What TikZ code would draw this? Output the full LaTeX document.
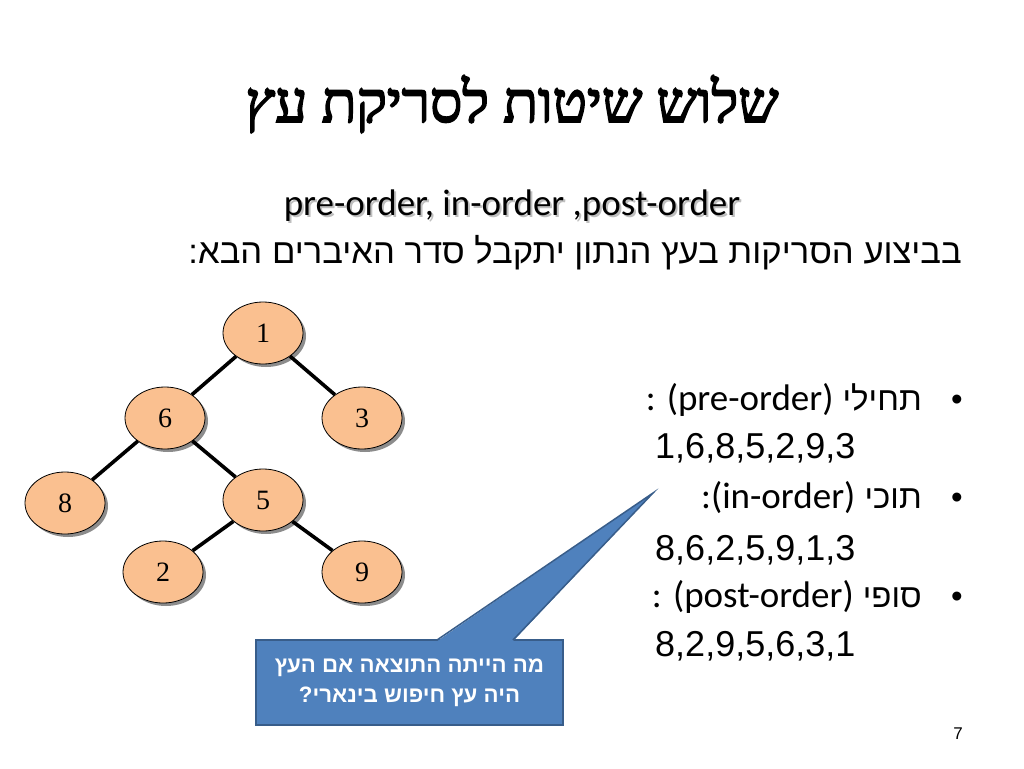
\documentclass[tikz,border=0pt]{standalone}
\usepackage{fontspec}
\usetikzlibrary{shapes.geometric,shadows}
\TeXXeTstate=1
\setmainfont{Liberation Sans}
\newfontfamily\hebserif[Script=Hebrew,FakeBold=3]{Liberation Serif}
\newfontfamily\hebsans[Script=Hebrew]{Liberation Sans}
\newfontfamily\calib{Carlito}
\newfontfamily\numserif{Liberation Serif}
\definecolor{peach}{HTML}{FAC090}
\definecolor{callfill}{HTML}{4F81BD}
\definecolor{calldraw}{HTML}{385D8A}
\tikzset{
  treenode/.style={ellipse, draw=black, line width=0.8pt, fill=peach,
    minimum width=80pt, minimum height=62pt, inner sep=0pt,
    font=\numserif\fontsize{28}{30}\selectfont,
    drop shadow={shadow xshift=3pt, shadow yshift=-3pt, fill=black, opacity=0.45}},
  treeedge/.style={line width=3.6pt, black},
  bodytext/.style={font=\hebsans\fontsize{34.6}{38}\selectfont, inner sep=0pt},
  bullettext/.style={font=\hebsans\fontsize{33}{36}\selectfont, inner sep=0pt},
  numtext/.style={font=\fontsize{36}{40}\selectfont, inner sep=0pt, anchor=base west},
}
\begin{document}
\begin{tikzpicture}[x=1pt,y=-1pt]
\useasboundingbox[fill=white] (0,0) rectangle (1024,768);

% title
\node[anchor=base, inner sep=0pt, font=\hebserif\fontsize{57}{60}\selectfont] (title) at (512,122) {\beginR שלוש שיטות לסריקת עץ\endR};

% subtitle with shadow
\node[anchor=base, inner sep=0pt, text=black!25, font=\calib\fontsize{37}{40}\selectfont] (subsh) at (514,217) {pre-order, in-order ,post-order};
\node[anchor=base, inner sep=0pt, font=\calib\fontsize{37}{40}\selectfont] (sub) at (512,215) {pre-order, in-order ,post-order};

% Hebrew line
\node[anchor=base east, bodytext] (intro) at (962,263) {:\beginR בביצוע הסריקות בעץ הנתון יתקבל סדר האיברים הבא\endR};

% tree
\node[treenode] (n1) at (263,333) {1};
\node[treenode] (n6) at (165,418) {6};
\node[treenode] (n3) at (362,418) {3};
\node[treenode] (n8) at (65,503) {8};
\node[treenode] (n5) at (263,500) {5};
\node[treenode] (n2) at (163,572) {2};
\node[treenode] (n9) at (362,572) {9};
\draw[treeedge] (n1) -- (n6);
\draw[treeedge] (n1) -- (n3);
\draw[treeedge] (n6) -- (n8);
\draw[treeedge] (n6) -- (n5);
\draw[treeedge] (n5) -- (n2);
\draw[treeedge] (n5) -- (n9);

% bullets
\node[anchor=base, bullettext] (b1) at (957,410) {•};
\node[anchor=base, bullettext] (b2) at (957,508) {•};
\node[anchor=base, bullettext] (b3) at (957,607) {•};
\node[anchor=base east, bullettext] (l1) at (922,410) {{\calib\fontsize{37}{40}\selectfont : (pre-order)} \beginR תחילי\endR};
\node[numtext] (l2) at (655,458) {1,6,8,5,2,9,3};
\node[anchor=base east, bullettext] (l3) at (922,508) {{\calib\fontsize{37}{40}\selectfont :(in-order)} \beginR תוכי\endR};
\node[numtext] (l4) at (655,560) {8,6,2,5,9,1,3};
\node[anchor=base east, bullettext] (l5) at (922,607) {{\calib\fontsize{37}{40}\selectfont : (post-order)} \beginR סופי\endR};
\node[numtext] (l6) at (655,656) {8,2,9,5,6,3,1};

% callout
\node[rectangle, draw=calldraw, line width=1.5pt, fill=callfill,
  minimum width=307pt, minimum height=85pt, inner sep=0pt, align=center,
  text=white, font=\hebsans\bfseries\fontsize{22.3}{30}\selectfont] (callout) at (409.5,682.5)
  {\beginR מה הייתה התוצאה אם העץ\endR\\ ?\beginR היה עץ חיפוש בינארי\endR};
\coordinate (pa) at (437,640);
\coordinate (pb) at (513,640);
\coordinate (tip) at (653,493);
\fill[callfill] ([yshift=-1.2pt]pa) -- (tip) -- ([yshift=-1.2pt]pb) -- cycle;
\draw[calldraw, line width=1.5pt, line join=miter] (pa) -- (tip) -- (pb);

% page number
\node[anchor=base, inner sep=0pt, font=\fontsize{17}{18}\selectfont] (pg) at (958,739) {7};
\end{tikzpicture}
\end{document}
